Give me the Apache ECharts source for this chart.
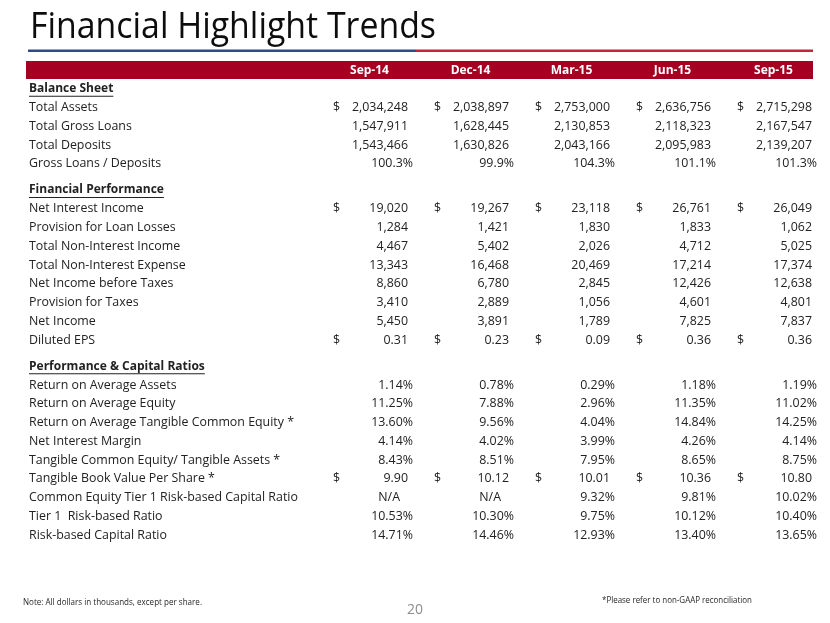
<!DOCTYPE html>
<html>
<head>
<meta charset="utf-8">
<script src="https://cdn.jsdelivr.net/npm/echarts@6/dist/echarts.min.js"></script>
<style>
  html, body { margin: 0; padding: 0; background: #fff; }
  #chart { width: 830px; height: 623px; }
</style>
</head>
<body>
<div id="chart"></div>
<script>
// columns
const periods = ['Sep-14', 'Dec-14', 'Mar-15', 'Jun-15', 'Sep-15'];

// rows: [label, format, values]   null = N/A
const balanceSheet = [
  ['Total Assets', 'usd', [2034248, 2038897, 2753000, 2636756, 2715298]],
  ['Total Gross Loans', 'int', [1547911, 1628445, 2130853, 2118323, 2167547]],
  ['Total Deposits', 'int', [1543466, 1630826, 2043166, 2095983, 2139207]],
  ['Gross Loans / Deposits', 'pct1', [100.3, 99.9, 104.3, 101.1, 101.3]]
];
const financialPerformance = [
  ['Net Interest Income', 'usd', [19020, 19267, 23118, 26761, 26049]],
  ['Provision for Loan Losses', 'int', [1284, 1421, 1830, 1833, 1062]],
  ['Total Non-Interest Income', 'int', [4467, 5402, 2026, 4712, 5025]],
  ['Total Non-Interest Expense', 'int', [13343, 16468, 20469, 17214, 17374]],
  ['Net Income before Taxes', 'int', [8860, 6780, 2845, 12426, 12638]],
  ['Provision for Taxes', 'int', [3410, 2889, 1056, 4601, 4801]],
  ['Net Income', 'int', [5450, 3891, 1789, 7825, 7837]],
  ['Diluted EPS', 'usd2', [0.31, 0.23, 0.09, 0.36, 0.36]]
];
const capitalRatios = [
  ['Return on Average Assets', 'pct2', [1.14, 0.78, 0.29, 1.18, 1.19]],
  ['Return on Average Equity', 'pct2', [11.25, 7.88, 2.96, 11.35, 11.02]],
  ['Return on Average Tangible Common Equity *', 'pct2', [13.60, 9.56, 4.04, 14.84, 14.25]],
  ['Net Interest Margin', 'pct2', [4.14, 4.02, 3.99, 4.26, 4.14]],
  ['Tangible Common Equity/ Tangible Assets *', 'pct2', [8.43, 8.51, 7.95, 8.65, 8.75]],
  ['Tangible Book Value Per Share *', 'usd2', [9.90, 10.12, 10.01, 10.36, 10.80]],
  ['Common Equity Tier 1 Risk-based Capital Ratio', 'pct2', [null, null, 9.32, 9.81, 10.02]],
  ['Tier 1  Risk-based Ratio', 'pct2', [10.53, 10.30, 9.75, 10.12, 10.40]],
  ['Risk-based Capital Ratio', 'pct2', [14.71, 14.46, 12.93, 13.40, 13.65]]
];
const sections = [
  ['Balance Sheet', balanceSheet],
  ['Financial Performance', financialPerformance],
  ['Performance & Capital Ratios', capitalRatios]
];

const FONT = '"Open Sans", "Noto Sans", sans-serif';
const BODY = '12.4px ' + FONT;
const TXT = '#222';
const SECTION_GAP = 0.4;

function fmt(v, kind) {
  if (v == null) return 'N/A';
  if (kind === 'pct1') return v.toFixed(1) + '%';
  if (kind === 'pct2') return v.toFixed(2) + '%';
  if (kind === 'usd2') return v.toFixed(2);
  return v.toLocaleString('en-US');
}

// build row list with vertical positions
const labels = [];
const cells = [];
let pos = 0;
sections.forEach(function (s, si) {
  if (si > 0) pos += SECTION_GAP;
  labels.push({ text: s[0], pos: pos, head: true });
  pos += 1;
  s[1].forEach(function (row) {
    labels.push({ text: row[0], pos: pos, head: false });
    row[2].forEach(function (v, c) {
      cells.push({
        col: c, pos: pos, text: fmt(v, row[1]),
        dollar: row[1] === 'usd' || row[1] === 'usd2',
        shift: v == null ? -8 : (row[1].indexOf('pct') === 0 ? 5 : 0)
      });
    });
    pos += 1;
  });
});
const lastPos = pos - 1;

const ctx = document.createElement('canvas').getContext('2d');
function textWidth(t, font) { ctx.font = font; return ctx.measureText(t).width; }
function fitScale(t, font, target) { return target / textWidth(t, font); }

const chart = echarts.init(document.getElementById('chart'));

const titleText = 'Financial Highlight Trends';
const titleFont = '37px ' + FONT;
const noteText = 'Note: All dollars in thousands, except per share.';
const refText = '*Please refer to non-GAAP reconciliation';
const smallFont = '9px ' + FONT;

chart.setOption({
  animation: false,
  grid: { left: 307, right: 18, top: 70, bottom: 88 },
  xAxis: { type: 'category', data: periods, show: false },
  yAxis: { type: 'value', inverse: true, min: -1, max: lastPos, show: false },
  graphic: [
    { type: 'text', x: 30, y: 27, scaleX: fitScale(titleText, titleFont, 406),
      style: { text: titleText, font: titleFont, fill: '#0d0d0d', verticalAlign: 'middle' } },
    { type: 'rect', shape: { x: 28, y: 49.5, width: 388, height: 2.5 }, style: { fill: '#2f4a8a' } },
    { type: 'rect', shape: { x: 416, y: 49.5, width: 397, height: 2.5 }, style: { fill: '#c4243c' } },
    { type: 'rect', shape: { x: 26, y: 61, width: 787, height: 18 }, style: { fill: '#a50021' } },
    { type: 'text', x: 23, y: 602, scaleX: fitScale(noteText, smallFont, 179),
      style: { text: noteText, font: smallFont, fill: '#262626', verticalAlign: 'middle' } },
    { type: 'text', x: 602, y: 600, scaleX: fitScale(refText, smallFont, 150),
      style: { text: refText, font: smallFont, fill: '#262626', verticalAlign: 'middle' } },
    { type: 'text', x: 415, y: 610,
      style: { text: '20', font: '14px ' + FONT, fill: '#8c8c8c', align: 'center', verticalAlign: 'middle' } }
  ],
  series: [
    {
      // column headers in red bar
      type: 'custom',
      encode: { x: 0, y: 1 },
      data: periods.map(function (p, c) { return [c, -1]; }),
      renderItem: function (params, api) {
        const p = api.coord([api.value(0), api.value(1)]);
        return {
          type: 'text', x: p[0] + 12, y: p[1] + 1,
          style: { text: periods[params.dataIndex], font: 'bold 12px ' + FONT, fill: '#fff',
            align: 'center', verticalAlign: 'middle' }
        };
      }
    },
    {
      // row labels
      type: 'custom',
      encode: { x: 0, y: 1 },
      data: labels.map(function (l) { return [0, l.pos]; }),
      renderItem: function (params, api) {
        const l = labels[params.dataIndex];
        const p = api.coord([0, api.value(1)]);
        const font = l.head ? 'bold 12px ' + FONT : BODY;
        const children = [{
          type: 'text', x: 29, y: p[1],
          style: { text: l.text, font: font, fill: TXT, verticalAlign: 'middle' }
        }];
        if (l.head) {
          children.push({
            type: 'rect',
            shape: { x: 29, y: p[1] + 7, width: textWidth(l.text, font), height: 1 },
            style: { fill: TXT }
          });
        }
        return { type: 'group', children: children };
      }
    },
    {
      // values
      type: 'custom',
      encode: { x: 0, y: 1 },
      data: cells.map(function (d) { return [d.col, d.pos]; }),
      renderItem: function (params, api) {
        const d = cells[params.dataIndex];
        const p = api.coord([api.value(0), api.value(1)]);
        const bw = api.size([1, 0])[0];
        const children = [{
          type: 'text', x: p[0] + bw / 2 + d.shift, y: p[1],
          style: { text: d.text, font: BODY, fill: TXT, align: 'right', verticalAlign: 'middle' }
        }];
        if (d.dollar) {
          children.push({
            type: 'text', x: p[0] - bw / 2 + 26, y: p[1],
            style: { text: '$', font: BODY, fill: TXT, verticalAlign: 'middle' }
          });
        }
        return { type: 'group', children: children };
      }
    }
  ]
});
</script>
</body>
</html>
